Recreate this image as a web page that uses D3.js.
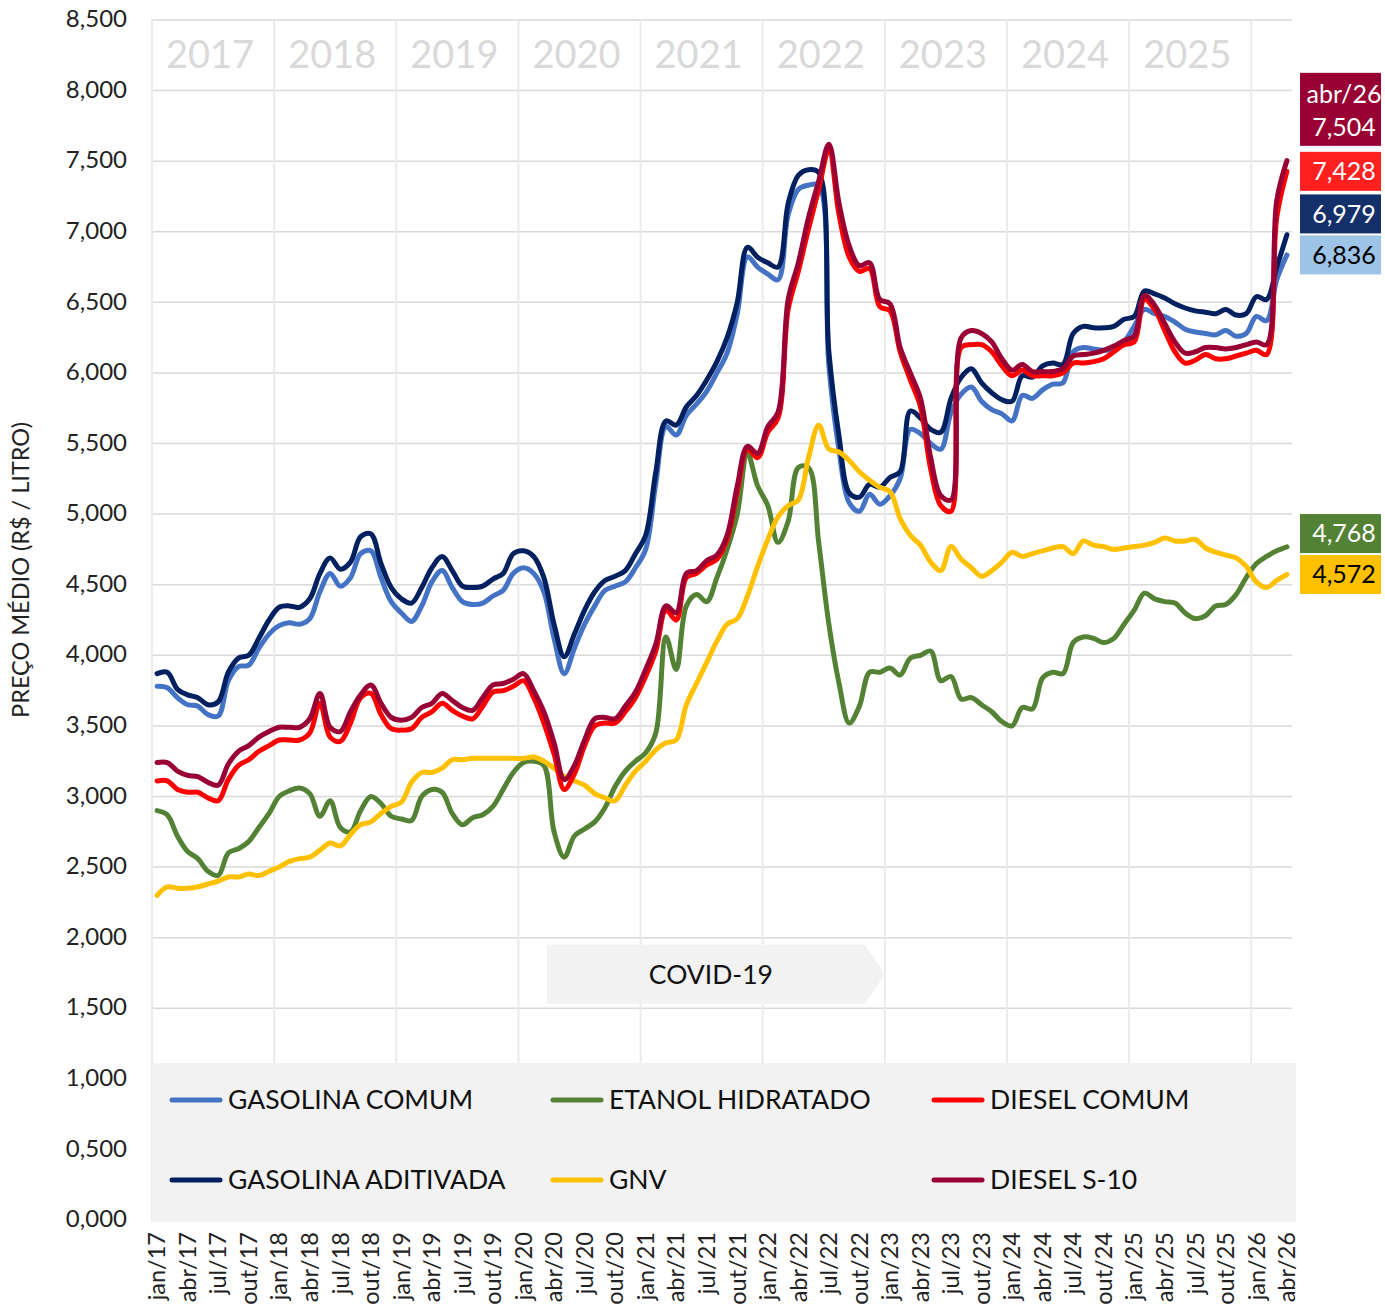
<!DOCTYPE html>
<html>
<head>
<meta charset="utf-8">
<script src="https://cdn.jsdelivr.net/npm/d3@7/dist/d3.min.js"></script>
<style>
  body { margin: 0; background: #fff; }
  svg { display: block; font-family: Lato, "Noto Sans", sans-serif; }
</style>
</head>
<body>
<svg id="chart" width="1385" height="1310"></svg>
<script>
// categorias: meses de jan/17 até abr/26
const years = [2017, 2018, 2019, 2020, 2021, 2022, 2023, 2024, 2025, 2026]
const monthNames = ['jan', 'fev', 'mar', 'abr', 'mai', 'jun', 'jul', 'ago', 'set', 'out', 'nov', 'dez']
const lastMonth = 'abr/26'

const months = []
for (const yr of years) {
  for (const m of monthNames) {
    if (months.length && months[months.length - 1] === lastMonth) break
    months.push(`${m}/${String(yr).slice(2)}`)
  }
}

// preços médios (R$ / litro)
const gasolinaComum = [
  3.78, 3.77, 3.70, 3.65, 3.64, 3.58, 3.57, 3.82, 3.92, 3.93, 4.05, 4.15,
  4.21, 4.23, 4.22, 4.26, 4.45, 4.58, 4.49, 4.55, 4.72, 4.74, 4.55, 4.38,
  4.30, 4.24, 4.35, 4.52, 4.60, 4.48, 4.38, 4.36, 4.37, 4.42, 4.46, 4.58,
  4.62, 4.58, 4.45, 4.12, 3.87, 4.05, 4.22, 4.35, 4.46, 4.49, 4.52, 4.62,
  4.75, 5.22, 5.62, 5.56, 5.70, 5.78, 5.87, 6.00, 6.14, 6.42, 6.82, 6.75,
  6.70, 6.66, 7.12, 7.30, 7.33, 7.33, 6.05, 5.45, 5.08, 5.02, 5.14, 5.07,
  5.13, 5.25, 5.60, 5.57, 5.50, 5.46, 5.72, 5.85, 5.90, 5.80, 5.74, 5.71,
  5.66, 5.84, 5.82, 5.88, 5.92, 5.93, 6.15, 6.18, 6.17, 6.16, 6.17, 6.22,
  6.33, 6.45, 6.42, 6.40, 6.36, 6.31, 6.29, 6.28, 6.27, 6.30, 6.26, 6.28,
  6.40, 6.37, 6.66, 6.836
]
const gasolinaAditivada = [
  3.87, 3.88, 3.76, 3.72, 3.70, 3.65, 3.67, 3.88, 3.98, 4.00, 4.12, 4.25,
  4.34, 4.35, 4.34, 4.40, 4.58, 4.69, 4.61, 4.66, 4.84, 4.86, 4.65, 4.48,
  4.40, 4.37, 4.48, 4.62, 4.70, 4.60, 4.49, 4.48, 4.49, 4.54, 4.58, 4.72,
  4.74, 4.70, 4.55, 4.22, 3.99, 4.15, 4.32, 4.45, 4.53, 4.56, 4.60, 4.72,
  4.85, 5.30, 5.66, 5.63, 5.76, 5.84, 5.95, 6.08, 6.25, 6.50, 6.89, 6.82,
  6.78, 6.75, 7.20, 7.40, 7.44, 7.42, 6.15, 5.55, 5.15, 5.12, 5.21, 5.19,
  5.26, 5.30, 5.73, 5.68, 5.60, 5.58, 5.82, 5.97, 6.03, 5.93, 5.86, 5.81,
  5.80, 5.98, 5.97, 6.05, 6.07, 6.06, 6.28, 6.33, 6.32, 6.32, 6.33, 6.38,
  6.40, 6.58, 6.56, 6.53, 6.49, 6.46, 6.44, 6.43, 6.42, 6.45, 6.41, 6.42,
  6.54, 6.52, 6.75, 6.979
]
const etanolHidratado = [
  2.90, 2.87, 2.72, 2.61, 2.56, 2.47, 2.44, 2.60, 2.63, 2.68, 2.78, 2.88,
  3.00, 3.04, 3.06, 3.02, 2.86, 2.97, 2.78, 2.75, 2.90, 3.00, 2.95, 2.86,
  2.84, 2.83, 3.00, 3.05, 3.03, 2.88, 2.80, 2.85, 2.87, 2.93, 3.05, 3.17,
  3.24, 3.25, 3.22, 2.75, 2.57, 2.72, 2.77, 2.82, 2.92, 3.07, 3.18, 3.25,
  3.31, 3.45, 4.13, 3.90, 4.35, 4.43, 4.38, 4.55, 4.75, 5.00, 5.43, 5.20,
  5.06, 4.80, 4.95, 5.33, 5.33, 4.80, 4.22, 3.80, 3.52, 3.64, 3.88, 3.88,
  3.91, 3.86, 3.98, 4.00, 4.03, 3.82, 3.85, 3.69, 3.70, 3.65, 3.60, 3.53,
  3.50, 3.63, 3.62, 3.84, 3.88, 3.87, 4.09, 4.13, 4.12, 4.09, 4.12, 4.22,
  4.32, 4.44, 4.40, 4.38, 4.37, 4.30, 4.26, 4.28, 4.35, 4.36, 4.43, 4.55,
  4.65, 4.70, 4.74, 4.768
]
const gnv = [
  2.30, 2.36, 2.35, 2.35, 2.36, 2.38, 2.40, 2.43, 2.43, 2.45, 2.44, 2.47,
  2.50, 2.54, 2.56, 2.57, 2.62, 2.67, 2.65, 2.73, 2.80, 2.82, 2.88, 2.93,
  2.96, 3.10, 3.17, 3.17, 3.20, 3.26, 3.26, 3.27, 3.27, 3.27, 3.27, 3.27,
  3.27, 3.28, 3.25, 3.20, 3.14, 3.11, 3.08, 3.02, 2.99, 2.97, 3.08, 3.18,
  3.25, 3.33, 3.38, 3.40, 3.65, 3.80, 3.95, 4.10, 4.22, 4.26, 4.42, 4.63,
  4.82, 4.98, 5.06, 5.10, 5.40, 5.63, 5.46, 5.44, 5.38, 5.30, 5.24, 5.19,
  5.16, 4.97, 4.85, 4.78, 4.66, 4.60, 4.77, 4.68, 4.62, 4.56, 4.60, 4.66,
  4.73, 4.70, 4.72, 4.74, 4.76, 4.77, 4.72, 4.81, 4.78, 4.77, 4.75, 4.76,
  4.77, 4.78, 4.80, 4.83, 4.81, 4.81, 4.82, 4.76, 4.73, 4.71, 4.69, 4.63,
  4.52, 4.48, 4.53, 4.572
]
const dieselComum = [
  3.11, 3.11, 3.05, 3.03, 3.03, 2.99, 2.97, 3.12, 3.22, 3.26, 3.32, 3.36,
  3.40, 3.40, 3.40, 3.45, 3.66, 3.42, 3.39, 3.52, 3.70, 3.73, 3.58, 3.48,
  3.47, 3.48, 3.56, 3.60, 3.66, 3.61, 3.57, 3.55, 3.64, 3.74, 3.75, 3.78,
  3.82, 3.70, 3.52, 3.30, 3.05, 3.16, 3.36, 3.50, 3.52, 3.52, 3.60, 3.70,
  3.85, 4.03, 4.32, 4.25, 4.55, 4.58, 4.64, 4.68, 4.82, 5.16, 5.46, 5.40,
  5.58, 5.68, 6.45, 6.72, 7.02, 7.30, 7.58, 7.12, 6.82, 6.72, 6.74, 6.47,
  6.44, 6.15, 5.95, 5.76, 5.32, 5.06, 5.02, 6.18, 6.20, 6.20, 6.15, 6.05,
  5.98, 6.02, 5.98, 5.98, 5.98, 6.00, 6.07, 6.07, 6.08, 6.10, 6.15, 6.20,
  6.22, 6.52, 6.45, 6.30, 6.15, 6.07, 6.09, 6.13, 6.10, 6.10, 6.12, 6.14,
  6.16, 6.13, 7.10, 7.428
]
const dieselS10 = [
  3.24, 3.24, 3.18, 3.15, 3.14, 3.10, 3.08, 3.23, 3.32, 3.36, 3.42, 3.46,
  3.49, 3.49, 3.49, 3.55, 3.73, 3.49, 3.46, 3.60, 3.72, 3.79, 3.66, 3.56,
  3.54, 3.56, 3.63, 3.66, 3.73, 3.68, 3.63, 3.61, 3.70, 3.79, 3.80, 3.83,
  3.87, 3.75, 3.60, 3.38, 3.12, 3.22, 3.40, 3.55, 3.56, 3.55, 3.64, 3.74,
  3.90, 4.08, 4.35, 4.30, 4.58, 4.60, 4.67, 4.71, 4.85, 5.20, 5.48, 5.43,
  5.62, 5.72, 6.52, 6.78, 7.10, 7.36, 7.62, 7.20, 6.90, 6.76, 6.78, 6.52,
  6.49, 6.18, 6.00, 5.82, 5.40, 5.13, 5.10, 6.25, 6.30, 6.28, 6.22, 6.10,
  6.02, 6.06, 6.01, 6.01, 6.01, 6.03, 6.12, 6.13, 6.14, 6.16, 6.19, 6.23,
  6.26, 6.55, 6.48, 6.35, 6.22, 6.14, 6.15, 6.18, 6.18, 6.17, 6.18, 6.20,
  6.22, 6.20, 7.22, 7.504
]

// ordem de desenho = ordem das séries no Excel
const series = [
  { name: 'GASOLINA COMUM', values: gasolinaComum, color: '#4472c4', box: '#9dc3e6', text: '#000' },
  { name: 'GASOLINA ADITIVADA', values: gasolinaAditivada, color: '#002060', box: '#14306a', text: '#fff' },
  { name: 'ETANOL HIDRATADO', values: etanolHidratado, color: '#548235', box: '#548235', text: '#fff' },
  { name: 'GNV', values: gnv, color: '#ffc000', box: '#ffc000', text: '#000' },
  { name: 'DIESEL COMUM', values: dieselComum, color: '#ff0000', box: '#ff1f1f', text: '#fff' },
  { name: 'DIESEL S-10', values: dieselS10, color: '#990033', box: '#990033', text: '#fff' }
]
// legenda em 3 colunas
const legendOrder = ['GASOLINA COMUM', 'ETANOL HIDRATADO', 'DIESEL COMUM', 'GASOLINA ADITIVADA', 'GNV', 'DIESEL S-10']

const yTicks = d3.range(0, 8.5001, 0.5)
const covid = { from: 'mar/20', to: 'dez/22', top: 1.95, bottom: 1.53, label: 'COVID-19' }

const svg = d3.select('#chart')
const plotLeft = 152
const plotRight = 1292
const plotTop = 20
const plotBottom = 1220

const x = d3.scaleBand().domain(months).range([plotLeft, plotRight])
const y = d3.scaleLinear().domain([0, 8.5]).range([plotBottom, plotTop])
const cx = m => x(m) + x.bandwidth() / 2
const fmt = v => d3.format('.3f')(v).replace('.', ',')

// grade horizontal
svg.append('g')
  .selectAll('line')
  .data(yTicks)
  .join('line')
  .attr('x1', plotLeft)
  .attr('x2', plotRight)
  .attr('y1', d => y(d))
  .attr('y2', d => y(d))
  .attr('stroke', '#d9d9d9')
  .attr('stroke-width', 1.5)

// grade vertical (viradas de ano)
const yearStarts = years.map(yr => `jan/${String(yr).slice(2)}`)
svg.append('g')
  .selectAll('line')
  .data(yearStarts)
  .join('line')
  .attr('x1', d => x(d))
  .attr('x2', d => x(d))
  .attr('y1', plotTop)
  .attr('y2', plotBottom)
  .attr('stroke', '#ebebeb')
  .attr('stroke-width', 2)

// anos no topo
const fullYears = years.filter(yr => months.includes(`dez/${String(yr).slice(2)}`))
svg.append('g')
  .selectAll('text')
  .data(fullYears)
  .join('text')
  .attr('x', yr => (x(`jan/${String(yr).slice(2)}`) + x(`dez/${String(yr).slice(2)}`) + x.bandwidth()) / 2 - 3)
  .attr('y', 68)
  .attr('text-anchor', 'middle')
  .attr('font-size', 38)
  .attr('fill', '#d9d9d9')
  .text(d => d)

// faixa COVID-19
const cx0 = cx(covid.from) + 3
const cx1 = x(covid.to) + x.bandwidth()
const cyT = y(covid.top)
const cyB = y(covid.bottom)
const cyM = (cyT + cyB) / 2
svg.append('polygon')
  .attr('points', [[cx0, cyT], [cx1 - 20, cyT], [cx1, cyM], [cx1 - 20, cyB], [cx0, cyB]].map(p => p.join(',')).join(' '))
  .attr('fill', '#f2f2f2')
svg.append('text')
  .attr('x', (cx0 + cx1 - 10) / 2)
  .attr('y', cyM)
  .attr('dy', '0.35em')
  .attr('text-anchor', 'middle')
  .attr('font-size', 26.5)
  .attr('fill', '#111')
  .text(covid.label)

// caixa da legenda
svg.append('rect')
  .attr('x', plotLeft)
  .attr('y', 1063)
  .attr('width', 1144)
  .attr('height', 159)
  .attr('fill', '#f2f2f2')

const legend = svg.append('g')
legendOrder.forEach((name, i) => {
  const s = series.find(d => d.name === name)
  const lx = 170 + (i % 3) * 381
  const ly = i < 3 ? 1100 : 1180
  legend.append('line')
    .attr('x1', lx + 2)
    .attr('x2', lx + 50)
    .attr('y1', ly)
    .attr('y2', ly)
    .attr('stroke', s.color)
    .attr('stroke-width', 5)
    .attr('stroke-linecap', 'round')
  legend.append('text')
    .attr('x', lx + 58)
    .attr('y', ly)
    .attr('dy', '0.35em')
    .attr('font-size', 26.5)
    .attr('fill', '#111')
    .text(name)
})

// linhas
const line = d3.line()
  .x((d, i) => cx(months[i]))
  .y(d => y(d))
  .curve(d3.curveCatmullRom.alpha(0.5))

svg.append('g')
  .selectAll('path')
  .data(series)
  .join('path')
  .attr('d', d => line(d.values))
  .attr('fill', 'none')
  .attr('stroke', d => d.color)
  .attr('stroke-width', 5)
  .attr('stroke-linejoin', 'round')
  .attr('stroke-linecap', 'round')

// eixo Y
svg.append('g')
  .selectAll('text')
  .data(yTicks)
  .join('text')
  .attr('x', 127)
  .attr('y', d => y(d))
  .attr('dy', '0.3em')
  .attr('text-anchor', 'end')
  .attr('font-size', 24)
  .attr('fill', '#222')
  .text(fmt)

svg.append('text')
  .attr('transform', 'translate(29,570) rotate(-90)')
  .attr('text-anchor', 'middle')
  .attr('font-size', 23.5)
  .attr('fill', '#222')
  .text('PREÇO MÉDIO (R$ / LITRO)')

// eixo X (trimestral)
svg.append('g')
  .selectAll('text')
  .data(months.filter((m, i) => i % 3 === 0))
  .join('text')
  .attr('transform', d => `translate(${cx(d)},1232) rotate(-90)`)
  .attr('dy', '0.35em')
  .attr('text-anchor', 'end')
  .attr('font-size', 23.5)
  .attr('fill', '#222')
  .text(d => d)

// rótulos do último mês, empilhados sem sobreposição
const maxEnd = d3.max(series, d => d.values[d.values.length - 1])
const endLabels = series.map(s => {
  const v = s.values[s.values.length - 1]
  return { ...s, v, lines: v === maxEnd ? [lastMonth, fmt(v)] : [fmt(v)] }
}).sort((a, b) => a.v - b.v)

let prevTop = Infinity
endLabels.forEach(d => {
  d.h = d.lines.length === 2 ? 73 : 39
  const gap = d.lines.length === 2 ? 6 : 2
  let t = y(d.v) - 19.5
  if (t + d.h > prevTop - gap) t = prevTop - gap - d.h
  d.top = t
  prevTop = t
})

const lab = svg.append('g')
  .selectAll('g')
  .data(endLabels)
  .join('g')
  .attr('transform', d => `translate(1300,${d.top})`)
lab.append('rect')
  .attr('width', 81)
  .attr('height', d => d.h)
  .attr('fill', d => d.box)
lab.each(function (d) {
  const g = d3.select(this)
  d.lines.forEach((t, i) => {
    g.append('text')
      .attr('x', 44)
      .attr('y', d.lines.length === 2 ? 21 + i * 33 : d.h / 2)
      .attr('dy', '0.35em')
      .attr('text-anchor', 'middle')
      .attr('font-size', 25)
      .attr('fill', d.text)
      .text(t)
  })
})
</script>
</body>
</html>
